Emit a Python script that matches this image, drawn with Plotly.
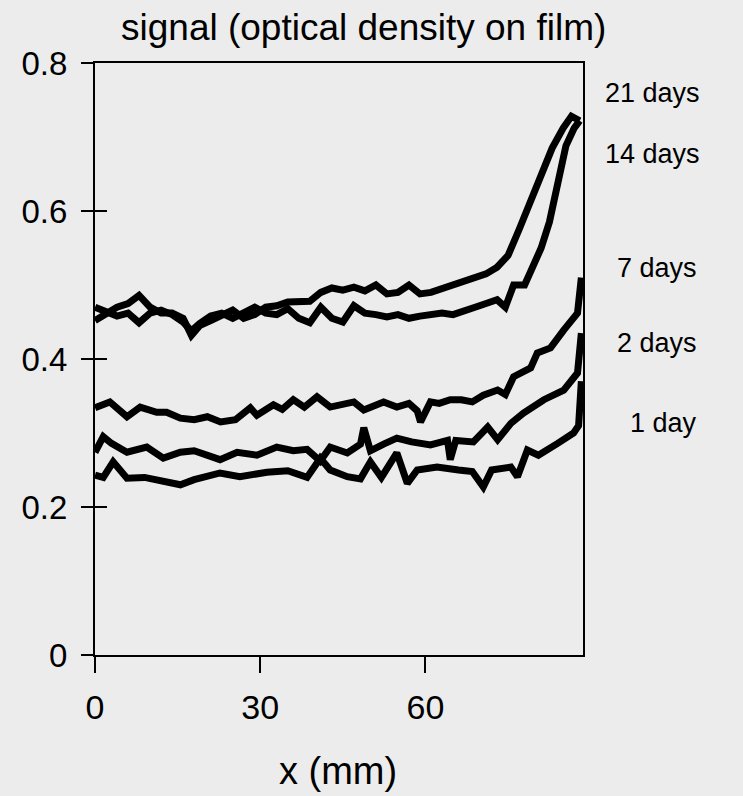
import plotly.graph_objects as go

# ---- data ----
d21_x = [0, 2, 4, 6, 8, 10, 12, 14, 16, 17.5, 19, 21, 23, 25, 27, 29, 31, 33, 35, 37, 39, 41, 43, 45, 47, 49,
         51, 53, 55, 57, 59, 61, 63, 65, 67, 69, 71, 73, 75, 77, 79, 81, 83, 85, 86.5, 88]
d21_y = [0.452, 0.462, 0.470, 0.475, 0.486, 0.470, 0.462, 0.462, 0.455, 0.432, 0.445, 0.452, 0.460, 0.466,
         0.455, 0.460, 0.470, 0.472, 0.477, 0.478, 0.478, 0.490, 0.496, 0.493, 0.497, 0.492, 0.500, 0.488,
         0.490, 0.500, 0.488, 0.490, 0.495, 0.500, 0.503, 0.510, 0.515, 0.524, 0.540, 0.575, 0.612, 0.645,
         0.685, 0.712, 0.728, 0.722]

d14_x = [0, 2, 4, 6, 8, 10, 12, 14, 16, 17.5, 19, 21, 23, 25, 27, 29, 31, 33, 35, 37, 39, 41, 43, 45, 47, 49,
         51, 53, 55, 57, 59, 61, 63, 65, 67, 69, 71, 73, 74.5, 76, 78, 79.5, 81, 82.5, 84, 85.5, 87, 88]
d14_y = [0.470, 0.465, 0.458, 0.462, 0.449, 0.462, 0.466, 0.460, 0.450, 0.438, 0.448, 0.458, 0.462, 0.455,
         0.462, 0.470, 0.462, 0.460, 0.468, 0.455, 0.449, 0.470, 0.455, 0.450, 0.472, 0.462, 0.460, 0.457,
         0.460, 0.455, 0.458, 0.460, 0.462, 0.460, 0.466, 0.470, 0.475, 0.480, 0.470, 0.500, 0.500, 0.528,
         0.550, 0.585, 0.640, 0.688, 0.712, 0.722]

d7_x = [0, 2.7, 5.8, 8.2, 11.2, 13, 15.5, 18, 20.4, 22.8, 25.5, 28.2, 29.4, 32.4, 34, 36, 38, 40.3, 42.7,
        45, 47, 48.8, 50.5, 52.4, 54.8, 57, 58.5, 59.1, 60.9, 62.5, 64.5, 66.5, 68.5, 70.5, 73.1, 74.5, 76,
        79.1, 80.3, 82.7, 85.1, 87.6, 88.3]
d7_y = [0.334, 0.342, 0.322, 0.335, 0.328, 0.328, 0.320, 0.318, 0.322, 0.315, 0.318, 0.334, 0.324, 0.338,
        0.332, 0.345, 0.335, 0.349, 0.335, 0.338, 0.342, 0.331, 0.336, 0.342, 0.335, 0.340, 0.330, 0.315,
        0.342, 0.340, 0.345, 0.345, 0.342, 0.351, 0.358, 0.352, 0.376, 0.388, 0.408, 0.415, 0.439, 0.462,
        0.510]

d2_x = [0, 1.5, 3.0, 5.8, 9.4, 12.4, 15.5, 18, 22.7, 25.8, 29.4, 33, 36, 38.5, 40.9, 42.7, 45.8, 48.2,
        48.8, 50, 52.4, 54.8, 57.5, 60.9, 64, 64.5, 65.5, 68.7, 71.3, 73.1, 75.5, 77.8, 81.5, 85.1, 87.6, 88.3]
d2_y = [0.274, 0.295, 0.286, 0.274, 0.281, 0.266, 0.274, 0.276, 0.264, 0.274, 0.270, 0.281, 0.276, 0.278,
        0.262, 0.281, 0.273, 0.285, 0.307, 0.276, 0.285, 0.293, 0.288, 0.284, 0.290, 0.264, 0.290, 0.288,
        0.308, 0.291, 0.313, 0.327, 0.345, 0.358, 0.381, 0.435]

d1_x = [0, 1.5, 3.3, 5.8, 9, 12, 14.2, 15.5, 18, 22.7, 26.3, 31.2, 35, 38.5, 40.9, 42.7, 45.8, 48.2, 50,
        52, 54.8, 56.7, 58.5, 62.1, 66, 68.5, 70.5, 72, 75.5, 76.7, 78.5, 80.5, 84, 86.9, 87.8, 88.3]
d1_y = [0.243, 0.240, 0.261, 0.239, 0.240, 0.236, 0.232, 0.230, 0.237, 0.246, 0.241, 0.247, 0.249, 0.240,
        0.266, 0.250, 0.241, 0.238, 0.261, 0.240, 0.273, 0.232, 0.250, 0.254, 0.250, 0.248, 0.227, 0.250,
        0.254, 0.241, 0.277, 0.270, 0.286, 0.300, 0.310, 0.370]

series_names = ["21 days", "14 days", "7 days", "2 days", "1 day"]
label_y = [0.759, 0.677, 0.523, 0.422, 0.314]

y_ticks = [0, 0.2, 0.4, 0.6, 0.8]
y_tick_text = ["0", "0.2", "0.4", "0.6", "0.8"]
x_ticks = [0, 30, 60]
x_tick_text = ["0", "30", "60"]

title_text = "signal (optical density on film)"
x_title = "x (mm)"

# ---- figure ----
BG = "#ececec"
FONT = "Liberation Sans, Arial, sans-serif"
L, R, T, B = 95, 160, 63, 141
W, H = 743, 796
PW, PH = W - L - R, H - T - B


def px_x(p):
    return (p - L) / PW


def px_y(p):
    return (H - B - p) / PH


fig = go.Figure()
all_x = [d21_x, d14_x, d7_x, d2_x, d1_x]
all_y = [d21_y, d14_y, d7_y, d2_y, d1_y]
for name, xs, ys in zip(series_names, all_x, all_y):
    fig.add_trace(go.Scatter(x=xs, y=ys, mode="lines", name=name,
                             line=dict(color="black", width=7), showlegend=False))

# invisible trace on secondary y-axis so y ticks cross the axis line
fig.add_trace(go.Scatter(x=[0], y=[0], yaxis="y2", mode="markers",
                         marker=dict(opacity=0), showlegend=False, hoverinfo="skip"))

label_left_px = [603, 603, 615, 615, 628]
for name, ly, lx in zip(series_names, label_y, label_left_px):
    fig.add_annotation(x=px_x(lx), xref="paper", y=ly, yref="y", text=name, showarrow=False,
                       font=dict(family=FONT, size=27, color="black"), xanchor="left", yanchor="middle")

fig.add_annotation(x=px_x(363), xref="paper", y=px_y(28), yref="paper", yanchor="middle",
                   text=title_text, showarrow=False, font=dict(family=FONT, size=37, color="black"))

fig.add_annotation(x=px_x(338), xref="paper", y=px_y(771), yref="paper", yanchor="middle",
                   text=x_title, showarrow=False, font=dict(family=FONT, size=38, color="black"))

fig.update_layout(
    width=W, height=H,
    margin=dict(l=L, r=R, t=T, b=B),
    paper_bgcolor=BG, plot_bgcolor=BG,
    font=dict(family=FONT, size=33, color="black"),
    xaxis=dict(range=[0, 88.6], tickvals=x_ticks, ticktext=x_tick_text, ticks="outside",
               ticklen=16, tickwidth=2, tickcolor="black", showline=True, linecolor="black",
               linewidth=2, mirror=True, showgrid=False, zeroline=False,
               ticklabelstandoff=5, tickfont=dict(size=34)),
    yaxis=dict(range=[0, 0.8], tickvals=y_ticks, ticktext=y_tick_text, ticks="outside",
               ticklen=12, tickwidth=2, tickcolor="black", showline=True, linecolor="black",
               linewidth=2, mirror=True, showgrid=False, zeroline=False,
               ticklabelstandoff=7, tickfont=dict(size=33)),
    yaxis2=dict(range=[0, 0.8], tickvals=y_ticks, overlaying="y", side="left", ticks="inside",
                ticklen=12, tickwidth=2, tickcolor="black", showticklabels=False, showline=False,
                showgrid=False, zeroline=False),
)

fig.write_html("out.html", config={"displayModeBar": False},
               post_script="document.body.style.margin='0px';document.body.style.background='%s';" % BG)
